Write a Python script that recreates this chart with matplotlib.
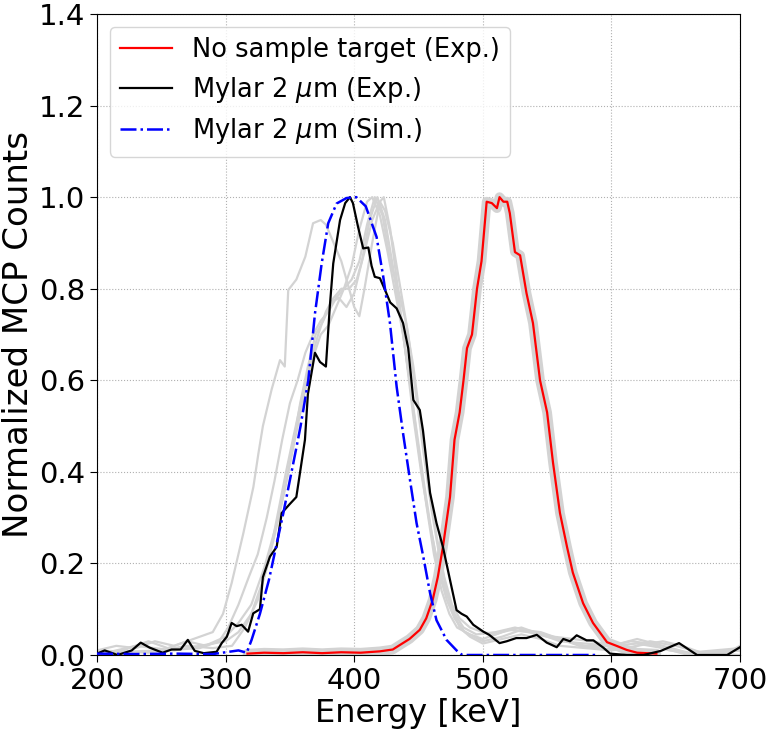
import numpy as np
import matplotlib
matplotlib.use("Agg")
import matplotlib.pyplot as plt

# ---------------- data ----------------
red_e = [317, 330, 345, 360, 375, 390, 405, 420, 430, 435.6, 443, 451, 456, 461, 465, 469, 474.5,
         478, 482, 485, 487.7, 491.6, 495.5, 499, 503, 507, 511, 513, 516, 519, 521, 525, 529,
         534, 539, 544.5, 550, 554.6, 560, 565.5, 570, 578, 585.7, 596.6, 604, 612, 620, 635]
red_v = [0.003, 0.005, 0.004, 0.006, 0.004, 0.006, 0.005, 0.008, 0.012, 0.022, 0.035, 0.055,
         0.08, 0.12, 0.17, 0.236, 0.345, 0.47, 0.53, 0.60, 0.67, 0.70, 0.80, 0.86, 0.99, 0.987,
         0.976, 1.0, 0.99, 0.99, 0.965, 0.88, 0.873, 0.79, 0.725, 0.60, 0.53, 0.42, 0.31, 0.236,
         0.18, 0.113, 0.07, 0.028, 0.02, 0.011, 0.005, 0.003]

blk_e = [200, 206, 216, 227, 234, 241, 251, 258, 265, 270.6, 276, 283, 293, 297, 301, 304.7,
         308.6, 312.5, 317.5, 321.5, 326.7, 329, 334.5, 339.7, 343.6, 350, 355, 357.8, 361.7,
         364, 369.5, 373.4, 378, 381, 383.7, 389, 393, 396.7, 399, 403, 407, 411, 413.5, 416,
         420, 424, 428, 433, 438, 442, 446, 451, 453.5, 459, 464, 469, 474.5, 479.6, 483.5,
         487.5, 492.6, 500.4, 505, 513, 518.6, 526, 534, 542, 549.7, 557.5, 562.6, 567.8, 573,
         580.7, 586, 593.7, 599, 612, 625, 638.5, 652.6, 666.6, 690, 700]
blk_v = [0.003, 0.01, 0.0, 0.01, 0.027, 0.016, 0.005, 0.012, 0.012, 0.033, 0.009, 0.004,
         0.007, 0.026, 0.04, 0.07, 0.063, 0.066, 0.051, 0.091, 0.10, 0.17, 0.215, 0.236, 0.31,
         0.33, 0.345, 0.397, 0.47, 0.57, 0.66, 0.64, 0.63, 0.76, 0.855, 0.95, 0.987, 1.0, 0.987,
         0.935, 0.888, 0.89, 0.85, 0.826, 0.823, 0.797, 0.77, 0.757, 0.725, 0.67, 0.557, 0.535,
         0.49, 0.354, 0.288, 0.236, 0.164, 0.098, 0.09, 0.084, 0.066, 0.051, 0.044, 0.026, 0.03,
         0.037, 0.037, 0.044, 0.027, 0.017, 0.035, 0.03, 0.043, 0.032, 0.032, 0.016, 0.003,
         0.0, 0.0, 0.009, 0.026, 0.0, 0.0, 0.017]

sim_e = [200, 230, 260, 290, 305, 310, 316.4, 320.2, 326.7, 333.7, 339.2, 344.9, 350, 355.2,
         358.3, 364.3, 369.5, 374.7, 379.8, 386.3, 394, 401.6, 409, 417.4, 422.6, 427.8, 433,
         438, 443.4, 448.5, 453.7, 459, 464, 471.8, 479.6, 484, 520, 560, 590]
sim_v = [0.003, 0.002, 0.003, 0.002, 0.008, 0.01, 0.005, 0.033, 0.09, 0.164, 0.236, 0.31,
         0.382, 0.455, 0.50, 0.60, 0.746, 0.855, 0.943, 0.986, 0.998, 1.0, 0.98, 0.913, 0.826,
         0.725, 0.586, 0.484, 0.382, 0.288, 0.215, 0.135, 0.076, 0.033, 0.01, 0.0, 0.0, 0.0, 0.0]

g1_e = [200, 215, 230, 245, 260, 275, 290, 298, 304.7, 313.8, 321.6, 325.5, 329, 335.8, 342.3,
        346, 348.7, 355, 362, 368, 374, 378, 384, 390, 396, 400, 404, 408, 414, 420, 424, 430,
        436, 442, 448, 454, 460, 466, 472, 478, 485, 495, 510, 525, 540, 555, 570, 585, 600,
        615, 630, 645, 660, 680, 700]
g1_v = [0.01, 0.02, 0.015, 0.03, 0.02, 0.035, 0.05, 0.09, 0.157, 0.266, 0.367, 0.44, 0.50,
        0.58, 0.644, 0.63, 0.797, 0.82, 0.87, 0.943, 0.95, 0.94, 0.90, 0.86, 0.80, 0.76, 0.74,
        0.80, 0.90, 0.99, 0.97, 0.90, 0.80, 0.70, 0.57, 0.44, 0.32, 0.22, 0.14, 0.09, 0.06,
        0.045, 0.05, 0.06, 0.05, 0.04, 0.035, 0.03, 0.02, 0.03, 0.025, 0.01, 0.005, 0.01, 0.015]

g2_e = [200, 220, 240, 255, 270, 285, 295, 302, 310, 318, 325, 332, 338, 344, 350, 356, 362,
        368, 374, 380, 386, 392, 398, 404, 410, 414, 420, 426, 432, 438, 444, 450, 456, 462,
        468, 474, 480, 490, 500, 515, 530, 545, 560, 580, 600, 620, 640, 660, 700]
g2_v = [0.005, 0.01, 0.03, 0.015, 0.03, 0.02, 0.03, 0.06, 0.11, 0.17, 0.22, 0.30, 0.38, 0.47,
        0.55, 0.60, 0.66, 0.70, 0.73, 0.75, 0.78, 0.80, 0.85, 0.93, 0.99, 1.0, 0.96, 0.88, 0.79,
        0.70, 0.58, 0.45, 0.33, 0.22, 0.14, 0.09, 0.06, 0.045, 0.035, 0.05, 0.06, 0.045, 0.03,
        0.025, 0.02, 0.035, 0.02, 0.005, 0.01]

g3_e = [200, 230, 260, 280, 300, 310, 320, 330, 338, 346, 352, 358, 364, 370, 376, 382, 388,
        394, 400, 406, 412, 418, 424, 430, 436, 442, 448, 454, 460, 466, 472, 478, 486, 500,
        515, 530, 545, 560, 575, 590, 610, 630, 650, 670, 700]
g3_v = [0.0, 0.02, 0.01, 0.02, 0.03, 0.05, 0.09, 0.17, 0.26, 0.36, 0.45, 0.55, 0.63, 0.70,
        0.73, 0.77, 0.78, 0.76, 0.79, 0.86, 0.95, 1.0, 0.95, 0.85, 0.74, 0.62, 0.50, 0.38, 0.27,
        0.18, 0.12, 0.08, 0.05, 0.03, 0.04, 0.055, 0.05, 0.035, 0.02, 0.015, 0.01, 0.03, 0.02,
        0.005, 0.0]

g4_e = [200, 240, 270, 290, 305, 315, 325, 333, 340, 347, 353, 360, 366, 372, 378, 384, 390,
        396, 402, 408, 414, 420, 423, 428, 434, 440, 446, 452, 458, 464, 470, 476, 482, 490,
        500, 515, 530, 545, 560, 580, 600, 620, 640, 655, 670, 700]
g4_v = [0.01, 0.005, 0.02, 0.015, 0.02, 0.06, 0.12, 0.20, 0.30, 0.40, 0.48, 0.57, 0.64, 0.70,
        0.75, 0.78, 0.80, 0.80, 0.82, 0.88, 0.95, 0.99, 1.0, 0.93, 0.80, 0.66, 0.52, 0.40, 0.30,
        0.21, 0.15, 0.10, 0.06, 0.04, 0.025, 0.035, 0.045, 0.035, 0.02, 0.015, 0.01, 0.02, 0.03,
        0.02, 0.005, 0.01]

g5_e = [200, 250, 280, 300, 310, 320, 330, 340, 348, 356, 362, 368, 374, 380, 386, 392, 398,
        404, 410, 416, 422, 428, 434, 440, 446, 452, 458, 464, 470, 476, 482, 490, 500, 510,
        520, 535, 550, 565, 580, 600, 620, 640, 660, 690, 700]
g5_v = [0.005, 0.01, 0.015, 0.04, 0.07, 0.11, 0.19, 0.29, 0.39, 0.50, 0.58, 0.65, 0.70, 0.72,
        0.76, 0.80, 0.82, 0.86, 0.94, 1.0, 0.96, 0.86, 0.80, 0.73, 0.63, 0.50, 0.37, 0.26, 0.17,
        0.11, 0.08, 0.06, 0.05, 0.045, 0.055, 0.05, 0.04, 0.03, 0.02, 0.02, 0.025, 0.015, 0.0,
        0.005, 0.02]

gray_mylar = [(g1_e, g1_v), (g2_e, g2_v), (g3_e, g3_v), (g4_e, g4_v), (g5_e, g5_v)]

labels = ["No sample target (Exp.)", r"Mylar 2 $\mu$m (Exp.)", r"Mylar 2 $\mu$m (Sim.)"]
x_ticks = [200, 300, 400, 500, 600, 700]
y_ticks = [0.0, 0.2, 0.4, 0.6, 0.8, 1.0, 1.2, 1.4]

# ---------------- plot ----------------
fig = plt.figure(figsize=(7.69, 7.32), dpi=100)
ax = fig.add_axes([97 / 769, 1 - 655 / 732, (740 - 97) / 769, (655 - 14) / 732])

gray = "#d3d3d3"
ax.plot(red_e, red_v, color=gray, lw=7, solid_capstyle="round", zorder=1)
for e, v in gray_mylar:
    ax.plot(e, v, color=gray, lw=1.6, zorder=1)

ax.plot(red_e, red_v, color="red", lw=1.6, label=labels[0], zorder=3)
ax.plot(blk_e, blk_v, color="black", lw=1.6, label=labels[1], zorder=3)
ax.plot(sim_e, sim_v, color="blue", lw=1.8, ls="-.", label=labels[2], zorder=4)

ax.set_xlim(200, 700)
ax.set_ylim(0, 1.4)
ax.set_xticks(x_ticks)
ax.set_yticks(y_ticks)
ax.tick_params(labelsize=21, length=5)
ax.set_xlabel("Energy [keV]", fontsize=23, labelpad=2)
ax.set_ylabel("Normalized MCP Counts", fontsize=24.5, labelpad=3)
ax.grid(True, ls=":", color="#b0b0b0", lw=0.8)
ax.set_axisbelow(True)

leg = ax.legend(loc="upper left", fontsize=18.5, framealpha=0.8, labelspacing=0.45)

fig.savefig("out.png", dpi=100)
